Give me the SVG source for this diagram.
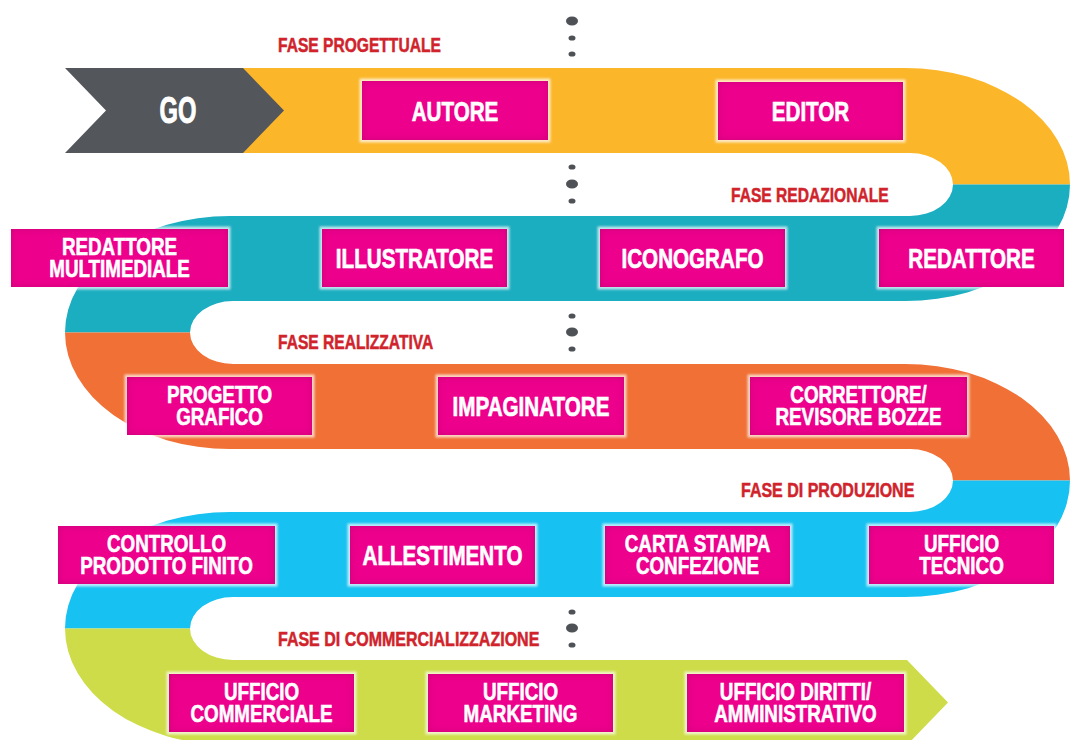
<svg xmlns="http://www.w3.org/2000/svg" width="1070" height="740" viewBox="0 0 1070 740">
<defs>
  <filter id="soft" x="-10%" y="-30%" width="120%" height="160%">
    <feGaussianBlur stdDeviation="1.3"/>
  </filter>
  <filter id="inset" x="-5%" y="-15%" width="110%" height="130%">
    <feFlood flood-color="#A8005F" flood-opacity="0.55" result="c"/>
    <feGaussianBlur in="SourceAlpha" stdDeviation="3" result="b"/>
    <feComposite in="SourceAlpha" in2="b" operator="out" result="edge"/>
    <feComposite in="c" in2="edge" operator="in" result="sh"/>
    <feMerge><feMergeNode in="SourceGraphic"/><feMergeNode in="sh"/></feMerge>
  </filter>
</defs>
<style>
  .halo{fill:#ffffff;fill-opacity:0.7;filter:url(#soft)}
  .box{fill:#EC008C;filter:url(#inset)}
  .t1{font-family:"Liberation Sans",Arial,sans-serif;font-weight:bold;font-size:27.5px;fill:#ffffff;stroke:#ffffff;stroke-width:0.7;text-anchor:middle}
  .t2{font-family:"Liberation Sans",Arial,sans-serif;font-weight:bold;font-size:23.5px;fill:#ffffff;stroke:#ffffff;stroke-width:0.6;text-anchor:middle}
  .phase{font-family:"Liberation Sans",Arial,sans-serif;font-weight:bold;font-size:20px;fill:#D0232B;stroke:#D0232B;stroke-width:0.5}
  .dot{fill:#4E5155}
</style>
<rect width="1070" height="740" fill="#ffffff"/>

<g id="road">
  <path fill="#FBB62A" d="M243,68 H905 A165,116.5 0 0 1 1070,184.5 H953 A43,31.5 0 0 0 910,153 H243 Z"/>
  <path fill="#1BADC0" d="M1070,184.5 A165,116.5 0 0 1 905,301 H233 A43,31.5 0 0 0 190,332.5 H65 A165,116.5 0 0 1 230,216 H910 A43,31.5 0 0 0 953,184.5 Z"/>
  <path fill="#F07035" d="M65,332.5 A165,116.5 0 0 0 230,449 H910 A43,31.5 0 0 1 953,480.5 H1070 A165,116.5 0 0 0 905,364 H233 A43,31.5 0 0 1 190,332.5 Z"/>
  <path fill="#17C1F1" d="M1070,480.5 A165,116.5 0 0 1 905,597 H233 A43,31.5 0 0 0 190,628.5 H65 A165,116.5 0 0 1 230,512 H910 A43,31.5 0 0 0 953,480.5 Z"/>
  <path fill="#CDDC48" d="M65,628.5 A165,116.5 0 0 0 230,745 H907 L948,702.5 L907,660 H233 A43,31.5 0 0 1 190,628.5 Z"/>
</g>

<g id="connectors">
  <ellipse class="dot" cx="572" cy="21" rx="6" ry="4.5"/>
  <ellipse class="dot" cx="572" cy="38" rx="3.5" ry="2.6"/>
  <ellipse class="dot" cx="572" cy="54" rx="3.5" ry="2.6"/>
  <ellipse class="dot" cx="572" cy="167" rx="3.5" ry="2.6"/>
  <ellipse class="dot" cx="572" cy="184" rx="6" ry="4.5"/>
  <ellipse class="dot" cx="572" cy="201" rx="3.5" ry="2.6"/>
  <ellipse class="dot" cx="572" cy="316" rx="3.5" ry="2.6"/>
  <ellipse class="dot" cx="572" cy="332" rx="6" ry="4.5"/>
  <ellipse class="dot" cx="572" cy="349" rx="3.5" ry="2.6"/>
  <ellipse class="dot" cx="572" cy="612" rx="3.5" ry="2.6"/>
  <ellipse class="dot" cx="572" cy="628" rx="6" ry="4.5"/>
  <ellipse class="dot" cx="572" cy="645" rx="3.5" ry="2.6"/>
</g>

<g id="phases">
  <text class="phase" transform="translate(278,52) scale(0.78,1)">FASE PROGETTUALE</text>
  <text class="phase" transform="translate(731,202) scale(0.78,1)">FASE REDAZIONALE</text>
  <text class="phase" transform="translate(278,349) scale(0.78,1)">FASE REALIZZATIVA</text>
  <text class="phase" transform="translate(741,497) scale(0.8,1)">FASE DI PRODUZIONE</text>
  <text class="phase" transform="translate(278,646) scale(0.8,1)">FASE DI COMMERCIALIZZAZIONE</text>
</g>

<g id="go">
  <polygon fill="#53565A" points="65,68 243,68 284,110.5 243,153 65,153 106,110.5"/>
  <text transform="translate(178,122.5) scale(0.64,1.02)" style="font-family:'Liberation Sans',Arial,sans-serif;font-weight:bold;font-size:37px;fill:#ffffff;stroke:#ffffff;stroke-width:1;text-anchor:middle">GO</text>
</g>

<g id="autore">
  <rect class="halo" x="359.5" y="78.5" width="191" height="64"/>
  <rect class="box" x="362" y="81" width="186" height="59"/>
  <text class="t1" transform="translate(455,120.5) scale(0.75,1)">AUTORE</text>
</g>
<g id="editor">
  <rect class="halo" x="715.5" y="79.5" width="190" height="63"/>
  <rect class="box" x="718" y="82" width="185" height="58"/>
  <text class="t1" transform="translate(810.5,121) scale(0.75,1)">EDITOR</text>
</g>

<g id="redattore-multimediale">
  <rect class="halo" x="8.5" y="226.5" width="222" height="63"/>
  <rect class="box" x="11" y="229" width="217" height="58"/>
  <text class="t2" transform="translate(119.5,258) scale(0.8,1)"><tspan x="0" y="-3">REDATTORE</tspan><tspan x="0" y="19">MULTIMEDIALE</tspan></text>
</g>
<g id="illustratore">
  <rect class="halo" x="319.5" y="226.5" width="190" height="63"/>
  <rect class="box" x="322" y="229" width="185" height="58"/>
  <text class="t1" transform="translate(414.5,268) scale(0.75,1)">ILLUSTRATORE</text>
</g>
<g id="iconografo">
  <rect class="halo" x="597.5" y="226.5" width="190" height="63"/>
  <rect class="box" x="600" y="229" width="185" height="58"/>
  <text class="t1" transform="translate(692.5,268) scale(0.75,1)">ICONOGRAFO</text>
</g>
<g id="redattore">
  <rect class="halo" x="876.5" y="226.5" width="190" height="63"/>
  <rect class="box" x="879" y="229" width="185" height="58"/>
  <text class="t1" transform="translate(971.5,268) scale(0.75,1)">REDATTORE</text>
</g>

<g id="progetto-grafico">
  <rect class="halo" x="124.5" y="374.5" width="190" height="63"/>
  <rect class="box" x="127" y="377" width="185" height="58"/>
  <text class="t2" transform="translate(219.5,406) scale(0.8,1)"><tspan x="0" y="-3">PROGETTO</tspan><tspan x="0" y="19">GRAFICO</tspan></text>
</g>
<g id="impaginatore">
  <rect class="halo" x="435.5" y="374.5" width="191" height="63"/>
  <rect class="box" x="438" y="377" width="186" height="58"/>
  <text class="t1" transform="translate(531,416) scale(0.75,1)">IMPAGINATORE</text>
</g>
<g id="correttore">
  <rect class="halo" x="747.5" y="374.5" width="222" height="63"/>
  <rect class="box" x="750" y="377" width="217" height="58"/>
  <text class="t2" transform="translate(858.5,406) scale(0.8,1)"><tspan x="0" y="-3">CORRETTORE/</tspan><tspan x="0" y="19">REVISORE BOZZE</tspan></text>
</g>

<g id="controllo">
  <rect class="halo" x="55.5" y="523.5" width="222" height="63"/>
  <rect class="box" x="58" y="526" width="217" height="58"/>
  <text class="t2" transform="translate(166.5,555) scale(0.8,1)"><tspan x="0" y="-3">CONTROLLO</tspan><tspan x="0" y="19">PRODOTTO FINITO</tspan></text>
</g>
<g id="allestimento">
  <rect class="halo" x="347.5" y="523.5" width="190" height="63"/>
  <rect class="box" x="350" y="526" width="185" height="58"/>
  <text class="t1" transform="translate(442.5,565) scale(0.75,1)">ALLESTIMENTO</text>
</g>
<g id="carta-stampa">
  <rect class="halo" x="602.5" y="523.5" width="190" height="63"/>
  <rect class="box" x="605" y="526" width="185" height="58"/>
  <text class="t2" transform="translate(697.5,555) scale(0.8,1)"><tspan x="0" y="-3">CARTA STAMPA</tspan><tspan x="0" y="19">CONFEZIONE</tspan></text>
</g>
<g id="ufficio-tecnico">
  <rect class="halo" x="866.5" y="523.5" width="190" height="63"/>
  <rect class="box" x="869" y="526" width="185" height="58"/>
  <text class="t2" transform="translate(961.5,555) scale(0.8,1)"><tspan x="0" y="-3">UFFICIO</tspan><tspan x="0" y="19">TECNICO</tspan></text>
</g>

<g id="ufficio-commerciale">
  <rect class="halo" x="166.5" y="671.5" width="190" height="63"/>
  <rect class="box" x="169" y="674" width="185" height="58"/>
  <text class="t2" transform="translate(261.5,703) scale(0.8,1)"><tspan x="0" y="-3">UFFICIO</tspan><tspan x="0" y="19">COMMERCIALE</tspan></text>
</g>
<g id="ufficio-marketing">
  <rect class="halo" x="425.5" y="671.5" width="190" height="63"/>
  <rect class="box" x="428" y="674" width="185" height="58"/>
  <text class="t2" transform="translate(520.5,703) scale(0.8,1)"><tspan x="0" y="-3">UFFICIO</tspan><tspan x="0" y="19">MARKETING</tspan></text>
</g>
<g id="ufficio-diritti">
  <rect class="halo" x="684.5" y="671.5" width="222" height="63"/>
  <rect class="box" x="687" y="674" width="217" height="58"/>
  <text class="t2" transform="translate(795.5,703) scale(0.8,1)"><tspan x="0" y="-3">UFFICIO DIRITTI/</tspan><tspan x="0" y="19">AMMINISTRATIVO</tspan></text>
</g>
</svg>
